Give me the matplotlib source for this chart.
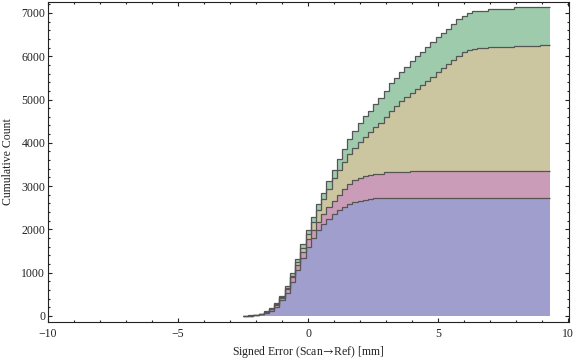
import matplotlib

matplotlib.use("Agg")
import matplotlib.pyplot as plt
import numpy as np
from matplotlib.ticker import MultipleLocator


# histogram bins: {-2.5, 9.3, 0.2}
BIN_START = -2.5
BIN_STOP = 9.3
BIN_WIDTH = 0.2

# cumulative counts per bin, one list per series (stacked bottom -> top)
blue_counts = [
    2, 5, 15, 35, 75, 125, 210, 360, 540, 790, 1060, 1340, 1600, 1800, 1985,
    2115, 2240, 2345, 2440, 2520, 2585, 2635, 2665, 2690, 2708, 2718, 2722,
    2728, 2728, 2728, 2728, 2728, 2728, 2728, 2728, 2728, 2728, 2728, 2728,
    2728, 2728, 2728, 2728, 2728, 2728, 2728, 2728, 2728, 2728, 2728, 2728,
    2728, 2728, 2728, 2728, 2728, 2728, 2728, 2728,
]
pink_counts = [
    1, 2, 5, 10, 17, 27, 40, 55, 75, 100, 120, 140, 170, 185, 195, 245, 280,
    315, 355, 405, 455, 500, 525, 538, 552, 564, 565, 587, 587, 587, 587, 587,
    617, 617, 617, 617, 617, 617, 617, 617, 617, 617, 617, 617, 617, 617, 617,
    617, 617, 617, 617, 617, 617, 617, 617, 617, 617, 617, 617,
]
tan_counts = [
    1, 2, 4, 5, 8, 13, 20, 25, 35, 45, 65, 95, 115, 185, 275, 340, 415, 520,
    575, 640, 695, 740, 820, 912, 985, 1076, 1173, 1288, 1423, 1533, 1647,
    1735, 1798, 1897, 1990, 2082, 2168, 2283, 2375, 2468, 2567, 2660, 2745,
    2798, 2828, 2837, 2837, 2860, 2860, 2860, 2860, 2860, 2898, 2898, 2898,
    2898, 2898, 2905, 2905,
]
green_counts = [
    2, 3, 4, 6, 10, 15, 20, 30, 40, 50, 65, 80, 95, 115, 120, 140, 185, 200,
    255, 285, 345, 405, 440, 480, 490, 530, 565, 593, 636, 656, 666, 707, 739,
    763, 769, 793, 808, 808, 809, 822, 832, 847, 850, 852, 864, 866, 866, 878,
    878, 885, 885, 885, 887, 887, 887, 887, 887, 890, 890,
]

SERIES = [blue_counts, pink_counts, tan_counts, green_counts]
FILL_COLORS = ["#a09ecc", "#cb9cb7", "#cbc5a0", "#9ecbac"]
EDGE_COLOR = "#555555"

X_LABEL = r"Signed Error (Scan$\!\rightarrow\!$Ref) [mm]"
Y_LABEL = "Cumulative Count"

plt.rcParams["font.family"] = ["Liberation Serif", "DejaVu Serif"]
plt.rcParams["font.size"] = 8.5
plt.rcParams["mathtext.fontset"] = "stix"


def main() -> None:
    n_bins = len(blue_counts)
    edges = BIN_START + BIN_WIDTH * np.arange(n_bins + 1)

    fig = plt.figure(figsize=(5.76, 3.62), dpi=100)
    ax = fig.add_axes([48 / 576, 1 - 322 / 362, 521 / 576, 320 / 362])

    base = np.zeros(n_bins)
    tops = []
    for counts, color in zip(SERIES, FILL_COLORS):
        top = base + np.array(counts, dtype=float)
        ax.stairs(top, edges, baseline=base, fill=True, color=color, lw=0)
        tops.append(top)
        base = top
    for top in tops:
        ax.stairs(top, edges, baseline=None, color=EDGE_COLOR, lw=0.9)

    ax.set_xlim(-10, 10.03)
    ax.set_ylim(-139, 7252)
    ax.xaxis.set_major_locator(MultipleLocator(5))
    ax.xaxis.set_minor_locator(MultipleLocator(1))
    ax.yaxis.set_major_locator(MultipleLocator(1000))
    ax.yaxis.set_minor_locator(MultipleLocator(200))
    ax.tick_params(which="both", direction="in", top=True, right=True,
                   width=0.8, color="#222222", labelcolor="#222222")
    ax.tick_params(which="major", length=3.0)
    ax.tick_params(which="minor", length=1.7)
    ax.tick_params(axis="x", pad=4)
    ax.tick_params(axis="y", pad=2)
    for spine in ax.spines.values():
        spine.set_linewidth(0.8)
        spine.set_color("#222222")

    ax.set_xlabel(X_LABEL, labelpad=3, color="#222222")
    ax.set_ylabel(Y_LABEL, labelpad=5, color="#222222")

    fig.savefig("out.png", dpi=100)
    plt.close(fig)


if __name__ == "__main__":
    main()
